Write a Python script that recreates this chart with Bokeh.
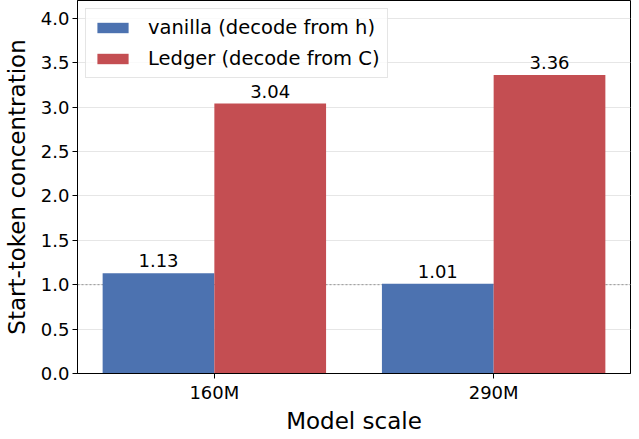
from bokeh.plotting import figure
from bokeh.models import ColumnDataSource, FixedTicker, Span, LabelSet, Legend, LegendItem, Range1d, CustomJSTickFormatter
from bokeh.transform import dodge
from bokeh.core.properties import value
from bokeh.embed import file_html
from bokeh.resources import INLINE

categories = ["160M", "290M"]
vanilla = [1.13, 1.01]
ledger = [3.04, 3.36]
series_names = ["vanilla (decode from h)", "Ledger (decode from C)"]
y_ticks = [0.0, 0.5, 1.0, 1.5, 2.0, 2.5, 3.0, 3.5, 4.0]

FONT = "DejaVu Sans"
BLUE = "#4C72B0"
RED = "#C44E52"

x_idx = list(range(len(categories)))
src = ColumnDataSource(dict(
    x=x_idx,
    vanilla=vanilla,
    ledger=ledger,
    vlab=[f"{v:.2f}" for v in vanilla],
    llab=[f"{v:.2f}" for v in ledger],
))

p = figure(
    frame_width=553, frame_height=373,
    min_border_left=69, min_border_right=1, min_border_top=0, min_border_bottom=50,
    x_range=Range1d(-0.49, 1.49), y_range=Range1d(0, 4.2),
    output_backend="svg", toolbar_location=None,
)
p.background_fill_color = "white"
p.border_fill_color = "white"
p.outline_line_color = "black"
p.outline_line_width = 1

one = Span(location=1.0, dimension="width", line_color="gray", line_dash="2 2",
           line_width=0.8, level="underlay")
p.add_layout(one)

w = 0.4
r1 = p.vbar(x=dodge("x", -0.2, range=p.x_range), top="vanilla", width=w, source=src,
            fill_color=BLUE, line_color=None)
r2 = p.vbar(x=dodge("x", 0.2, range=p.x_range), top="ledger", width=w, source=src,
            fill_color=RED, line_color=None)

for col, lab, off in (("vanilla", "vlab", -0.2), ("ledger", "llab", 0.2)):
    ls = LabelSet(x=dodge("x", off, range=p.x_range), y=col, text=lab, source=src,
                  text_align="center", text_baseline="bottom", y_offset=6,
                  text_font=value(FONT), text_font_size=value("18px"), text_color="black")
    p.add_layout(ls)

p.xaxis.ticker = FixedTicker(ticks=x_idx)
p.xaxis.major_label_overrides = {i: c for i, c in enumerate(categories)}
p.yaxis.ticker = FixedTicker(ticks=y_ticks)
p.yaxis.formatter = CustomJSTickFormatter(code="return tick.toFixed(1);")

for ax in (p.xaxis[0], p.yaxis[0]):
    ax.major_label_text_font = FONT
    ax.major_label_text_font_size = "18px"
    ax.major_label_text_color = "black"
    ax.axis_label_text_font = FONT
    ax.axis_label_text_font_size = "23px"
    ax.axis_label_text_font_style = "normal"
    ax.axis_label_text_color = "black"
    ax.axis_line_color = "black"
    ax.major_tick_line_color = "black"
    ax.major_tick_out = 5
    ax.major_tick_in = 0
    ax.minor_tick_line_color = None
    ax.major_label_standoff = 3

p.xaxis.axis_label = "Model scale"
p.yaxis.axis_label = "Start-token concentration"
p.xaxis.axis_label_standoff = 2
p.yaxis.axis_label_standoff = 8

p.xgrid.grid_line_color = None
p.ygrid.grid_line_color = "#e6e6e6"
p.ygrid.grid_line_width = 1

legend = Legend(items=[LegendItem(label=series_names[0], renderers=[r1]),
                       LegendItem(label=series_names[1], renderers=[r2])],
                location="top_left")
legend.margin = 8
legend.padding = 7
legend.glyph_width = 39
legend.glyph_height = 13
legend.label_standoff = 16
legend.label_height = 22
legend.spacing = 8
legend.label_text_font = FONT
legend.label_text_font_size = "19.5px"
legend.label_text_color = "black"
legend.border_line_color = "#cccccc"
legend.border_line_width = 1
legend.background_fill_color = "white"
legend.background_fill_alpha = 0.8
p.add_layout(legend)

open("out.html", "w").write(file_html(p, INLINE))
